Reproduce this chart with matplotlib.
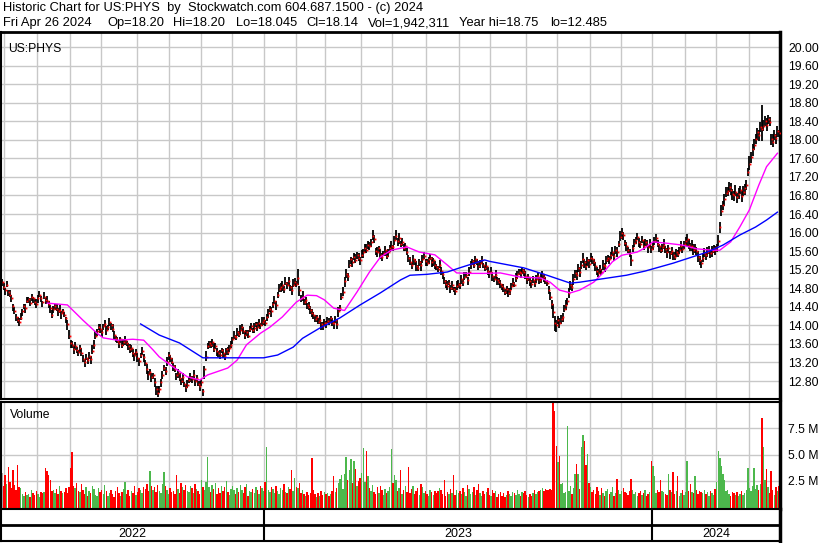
import matplotlib
matplotlib.use('Agg')
import matplotlib.pyplot as plt
import numpy as np
import pandas as pd
from pandas.tseries.holiday import USFederalHolidayCalendar

# daily closes, Apr 2022 .. Apr 26 2024
closes = [
    14.93, 14.82, 14.76, 14.88, 14.72, 14.66, 14.58, 14.42, 14.30, 14.18,
    14.12, 14.08, 14.16, 14.30, 14.42, 14.38, 14.52, 14.56, 14.48, 14.62,
    14.58, 14.50, 14.46, 14.60, 14.66, 14.58, 14.50, 14.62, 14.55, 14.52,
    14.45, 14.38, 14.22, 14.35, 14.42, 14.36, 14.30, 14.34, 14.26, 14.30,
    14.22, 14.15, 14.02, 13.78, 13.62, 13.58, 13.50, 13.55, 13.46, 13.42,
    13.52, 13.40, 13.28, 13.22, 13.30, 13.26, 13.34, 13.28, 13.45, 13.58,
    13.78, 13.88, 13.96, 13.92, 13.85, 13.98, 14.02, 13.90, 13.96, 14.08,
    14.00, 13.92, 13.80, 13.72, 13.66, 13.62, 13.70, 13.58, 13.64, 13.68,
    13.62, 13.55, 13.48, 13.52, 13.40, 13.36, 13.42, 13.30, 13.24, 13.36,
    13.45, 13.32, 13.18, 13.05, 12.95, 13.00, 12.88, 12.92, 12.78, 12.62,
    12.55, 12.62, 12.78, 12.92, 13.08, 13.02, 13.20, 13.36, 13.30, 13.22,
    13.12, 13.05, 12.92, 12.98, 12.86, 12.80, 12.88, 12.74, 12.66, 12.72,
    12.82, 12.88, 12.84, 12.92, 12.80, 12.86, 12.74, 12.70, 12.78, 12.58,
    13.05, 13.32, 13.56, 13.62, 13.58, 13.64, 13.50, 13.56, 13.44, 13.40,
    13.36, 13.46, 13.40, 13.34, 13.48, 13.42, 13.52, 13.58, 13.70, 13.78,
    13.74, 13.86, 13.82, 13.90, 13.96, 13.88, 13.80, 13.86, 13.78, 13.92,
    13.98, 13.90, 13.95, 14.02, 13.96, 14.06, 14.00, 14.08, 14.12, 14.04,
    14.18, 14.26, 14.36, 14.30, 14.46, 14.52, 14.44, 14.66, 14.78, 14.82,
    14.86, 14.78, 14.92, 14.88, 14.96, 14.82, 14.76, 14.88, 14.94, 14.90,
    15.02, 14.76, 14.58, 14.62, 14.50, 14.54, 14.44, 14.40, 14.34, 14.26,
    14.22, 14.14, 14.18, 14.08, 14.12, 14.02, 13.98, 14.06, 14.04, 14.10,
    14.08, 14.16, 14.06, 14.04, 14.12, 14.02, 14.30, 14.38, 14.62, 14.72,
    14.95, 15.10, 15.06, 15.30, 15.42, 15.36, 15.48, 15.40, 15.52, 15.46,
    15.40, 15.52, 15.58, 15.66, 15.62, 15.74, 15.70, 15.80, 15.92, 15.86,
    15.60, 15.58, 15.66, 15.52, 15.48, 15.56, 15.62, 15.50, 15.58, 15.66,
    15.72, 15.68, 15.84, 15.92, 15.82, 15.88, 15.76, 15.80, 15.66, 15.70,
    15.58, 15.46, 15.36, 15.30, 15.42, 15.38, 15.28, 15.24, 15.36, 15.30,
    15.44, 15.50, 15.38, 15.34, 15.42, 15.46, 15.36, 15.40, 15.30, 15.26,
    15.22, 15.30, 15.18, 15.10, 14.96, 14.90, 14.84, 14.92, 14.80, 14.86,
    14.78, 14.74, 14.84, 14.90, 14.86, 15.00, 14.94, 15.04, 15.08, 14.98,
    15.16, 15.32, 15.38, 15.30, 15.42, 15.36, 15.28, 15.34, 15.40, 15.30,
    15.24, 15.28, 15.18, 15.12, 15.16, 15.06, 15.00, 15.08, 14.98, 14.94,
    14.90, 14.84, 14.80, 14.72, 14.78, 14.70, 14.76, 14.84, 14.92, 14.88,
    15.02, 15.10, 15.16, 15.12, 15.20, 15.14, 15.06, 15.00, 15.04, 14.96,
    14.90, 14.98, 14.92, 15.00, 15.06, 14.98, 15.02, 15.10, 15.04, 14.96,
    14.92, 14.76, 14.62, 14.46, 14.28, 14.06, 14.00, 14.12, 14.06, 14.14,
    14.18, 14.36, 14.44, 14.52, 14.70, 14.86, 14.82, 15.00, 15.12, 15.08,
    15.24, 15.16, 15.30, 15.44, 15.36, 15.28, 15.40, 15.32, 15.46, 15.42,
    15.36, 15.28, 15.18, 15.12, 15.22, 15.16, 15.30, 15.28, 15.40, 15.46,
    15.42, 15.52, 15.58, 15.50, 15.62, 15.58, 15.76, 15.90, 16.00, 15.94,
    15.78, 15.70, 15.62, 15.56, 15.40, 15.66, 15.78, 15.84, 15.90, 15.80,
    15.76, 15.84, 15.72, 15.80, 15.74, 15.68, 15.76, 15.64, 15.72, 15.82,
    15.88, 15.76, 15.70, 15.62, 15.68, 15.74, 15.64, 15.58, 15.66, 15.56,
    15.60, 15.52, 15.48, 15.58, 15.54, 15.62, 15.70, 15.64, 15.76, 15.82,
    15.86, 15.74, 15.68, 15.72, 15.62, 15.66, 15.60, 15.48, 15.40, 15.34,
    15.46, 15.56, 15.52, 15.58, 15.62, 15.56, 15.60, 15.66, 15.62, 15.68,
    15.82, 16.12, 16.46, 16.60, 16.72, 16.86, 16.90, 16.98, 16.92, 16.84,
    16.80, 16.88, 16.76, 16.84, 16.92, 16.78, 16.88, 16.96, 17.02, 17.30,
    17.48, 17.62, 17.80, 17.88, 18.02, 18.16, 18.10, 18.28, 18.24, 18.30,
    18.40, 18.32, 18.44, 18.38, 18.02, 17.96, 18.10, 18.04, 18.18, 18.14,
]

# distance from close up to the high / down to the low, in cents
hi_off = [
    6, 9, 4, 8, 5, 10, 7, 4, 9, 6,   5, 8, 11, 6, 4, 7, 9, 5, 12, 6,
    4, 7, 10, 5, 8, 6, 3, 9, 7, 11,  8, 5, 12, 6, 4, 9, 7, 10, 5, 6,
    7, 4, 9, 13, 6, 8, 5, 10, 7, 4,  6, 11, 7, 5, 9, 4, 8, 6, 12, 10,
    9, 5, 7, 11, 6, 4, 10, 8, 5, 7,  6, 10, 8, 5, 9, 7, 4, 11, 6, 8,
    5, 7, 12, 6, 9, 4, 8, 10, 6, 5,  9, 6, 8, 11, 7, 5, 10, 6, 9, 7,
    14, 8, 6, 10, 7, 9, 12, 6, 5, 8, 7, 10, 5, 8, 12, 6, 9, 4, 7, 10,
    6, 9, 7, 11, 5, 8, 6, 10, 7, 4,  8, 12, 6, 5, 9, 7, 11, 6, 8, 5,
    10, 6, 9, 7, 4, 11, 6, 8, 5, 9,  6, 8, 5, 10, 7, 9, 6, 4, 11, 7,
    8, 5, 9, 6, 12, 7, 5, 10, 6, 8,  7, 10, 6, 9, 5, 11, 8, 6, 12, 9,
    10, 7, 12, 6, 9, 5, 8, 11, 7, 6, 20, 9, 7, 11, 6, 8, 5, 10, 7, 9,
    6, 9, 5, 8, 11, 6, 10, 7, 5, 8,  7, 5, 10, 6, 8, 12, 9, 5, 7, 10,
    9, 12, 7, 11, 6, 10, 8, 13, 6, 9, 8, 11, 6, 9, 13, 7, 10, 6, 14, 9,
    7, 10, 6, 12, 8, 5, 9, 11, 6, 8, 10, 6, 9, 14, 7, 11, 6, 8, 10, 7,
    8, 6, 11, 7, 9, 5, 10, 7, 6, 9,  7, 9, 6, 10, 5, 8, 11, 6, 9, 7,
    6, 10, 8, 5, 9, 7, 12, 6, 8, 10, 5, 8, 11, 7, 6, 9, 5, 10, 7, 6,
    9, 7, 5, 10, 8, 6, 11, 7, 9, 5,  6, 9, 7, 5, 10, 8, 6, 11, 7, 9,
    8, 5, 9, 7, 6, 10, 5, 8, 11, 6,  10, 7, 6, 9, 5, 8, 11, 6, 7, 9,
    7, 9, 5, 8, 10, 6, 9, 7, 5, 8,   6, 8, 10, 9, 18, 14, 12, 9, 10, 8,
    9, 7, 10, 8, 11, 9, 7, 10, 8, 12, 8, 10, 9, 12, 7, 10, 8, 11, 9, 7,
    6, 9, 7, 10, 8, 5, 11, 7, 9, 6,  8, 6, 10, 7, 9, 11, 6, 14, 9, 7,
    7, 9, 6, 8, 12, 7, 9, 6, 10, 8,  6, 8, 11, 7, 9, 5, 10, 8, 6, 9,
    9, 7, 5, 10, 8, 12, 6, 9, 7, 5,  8, 6, 10, 7, 9, 6, 11, 8, 5, 9,
    10, 12, 9, 11, 14, 10, 8, 12, 9, 7, 8, 11, 7, 10, 9, 6, 12, 8, 10, 7,
    12, 10, 14, 9, 11, 13, 8, 12, 15, 10, 10, 14, 9, 12, 8, 11, 13, 9, 12, 10,
    16, 12, 10, 14, 11, 9, 12, 10, 51, 13, 11, 14, 9, 12, 10, 16, 11, 9, 12, 8,
]
lo_off = [
    8, 5, 10, 6, 9, 4, 7, 11, 5, 8,  6, 10, 5, 9, 7, 11, 4, 8, 6, 10,
    9, 6, 8, 11, 5, 7, 10, 6, 9, 4,  7, 11, 6, 8, 10, 5, 9, 7, 12, 6,
    5, 9, 12, 7, 10, 6, 11, 8, 5, 9, 10, 6, 8, 12, 5, 9, 7, 11, 6, 8,
    7, 10, 6, 9, 11, 8, 5, 10, 7, 9, 9, 6, 11, 8, 5, 10, 7, 6, 9, 11,
    6, 9, 7, 10, 8, 12, 6, 9, 11, 7, 8, 10, 6, 9, 12, 7, 11, 8, 10, 13,
    9, 7, 12, 8, 6, 10, 7, 11, 8, 6, 10, 6, 9, 11, 7, 8, 12, 6, 9, 7,
    7, 11, 8, 6, 10, 9, 5, 12, 8, 10, 20, 9, 7, 10, 6, 11, 8, 7, 10, 9,
    8, 6, 10, 9, 11, 7, 9, 6, 10, 8, 6, 9, 7, 11, 8, 6, 10, 9, 5, 7,
    9, 7, 11, 6, 8, 10, 7, 9, 11, 6, 8, 10, 7, 12, 9, 6, 11, 8, 7, 10,
    11, 8, 6, 9, 12, 7, 10, 6, 9, 8, 14, 12, 8, 10, 7, 11, 9, 6, 10, 8,
    9, 7, 10, 6, 9, 11, 7, 8, 10, 6, 7, 10, 8, 11, 6, 9, 12, 8, 7, 9,
    12, 8, 10, 7, 9, 11, 8, 6, 10, 7, 10, 7, 12, 9, 6, 10, 8, 11, 7, 9,
    8, 11, 7, 10, 9, 6, 12, 8, 10, 7, 9, 7, 11, 8, 10, 12, 7, 9, 6, 10,
    7, 10, 6, 9, 11, 8, 10, 7, 9, 12, 10, 8, 11, 7, 9, 6, 10, 12, 8, 6,
    8, 6, 9, 11, 7, 10, 8, 6, 11, 9, 6, 9, 7, 10, 8, 11, 9, 7, 6, 10,
    9, 11, 8, 7, 10, 6, 9, 11, 8, 7, 7, 8, 10, 9, 6, 11, 7, 9, 10, 8,
    10, 7, 9, 6, 11, 8, 10, 7, 9, 6, 8, 10, 7, 11, 9, 7, 6, 10, 8, 11,
    9, 7, 10, 8, 6, 9, 11, 8, 10, 7, 7, 9, 8, 10, 12, 18, 14, 10, 12, 11,
    10, 8, 12, 9, 11, 10, 8, 12, 9, 10, 9, 11, 8, 10, 12, 9, 11, 8, 10, 9,
    8, 10, 9, 7, 11, 8, 10, 12, 7, 9, 10, 8, 9, 11, 8, 10, 7, 9, 14, 10,
    8, 10, 7, 9, 11, 8, 10, 9, 7, 11, 9, 7, 10, 8, 6, 11, 9, 7, 10, 8,
    10, 8, 11, 7, 9, 10, 8, 12, 9, 14, 9, 11, 8, 10, 7, 9, 10, 8, 11, 10,
    14, 10, 8, 12, 10, 11, 9, 12, 10, 11, 10, 9, 12, 11, 8, 10, 12, 9, 11, 10,
    11, 13, 10, 12, 14, 9, 12, 11, 10, 14, 12, 10, 13, 11, 9, 12, 10, 14, 11, 9,
    13, 11, 14, 10, 12, 16, 13, 11, 26, 10, 10, 12, 11, 9, 14, 12, 10, 13, 11, 9,
]

# daily volume, millions of shares
volume = [
    3.2, 2.0, 3.0, 2.2, 3.8, 2.4, 1.8, 3.5, 2.1, 1.6,  4.0, 1.9, 1.8, 1.2, 1.0, 1.4, 1.1, 1.2, 0.9, 1.6,
    1.3, 1.1, 1.5, 1.2, 0.9, 1.4, 1.3, 1.4, 3.7, 3.4,  3.0, 2.6, 1.5, 1.6, 1.3, 1.7, 1.2, 2.0, 1.5, 1.3,
    1.4, 1.8, 1.3, 1.9, 3.7, 5.2, 2.0, 1.8, 2.3, 1.5,  1.4, 2.2, 1.6, 1.2, 1.9, 1.0, 1.5, 1.3, 2.0, 1.7,
    1.1, 1.0, 1.8, 1.4, 1.6, 1.2, 2.1, 1.5, 1.0, 1.3,  1.6, 1.2, 0.9, 1.5, 1.9, 1.3, 1.0, 1.4, 1.7, 2.4,
    1.2, 1.6, 1.0, 1.5, 1.3, 2.0, 1.1, 1.4, 1.8, 1.6,  1.3, 1.9, 1.7, 2.2, 1.5, 3.4, 2.0, 1.6, 1.9, 1.4,
    2.1, 1.5, 1.3, 2.2, 3.3, 2.0, 1.6, 1.2, 1.8, 1.4,  1.5, 1.2, 3.0, 1.7, 1.3, 2.3, 1.9, 1.6, 2.1, 1.5,
    1.4, 2.0, 1.8, 1.3, 2.2, 1.7, 1.5, 1.2, 2.6, 1.9,  1.6, 2.4, 4.8, 1.9, 1.4, 2.1, 1.7, 2.3, 1.2, 1.8,
    1.3, 2.0, 1.5, 1.9, 2.5, 1.4, 1.1, 1.7, 2.0, 1.6,  1.2, 1.8, 1.4, 2.1, 1.6, 1.3, 1.9, 2.2, 1.0, 1.5,
    1.4, 1.7, 1.3, 1.9, 1.6, 1.2, 2.0, 1.8, 1.5, 2.4,  5.7, 1.6, 1.4, 1.9, 1.7, 1.3, 2.0, 1.5, 1.2, 1.8,
    1.6, 2.2, 1.4, 1.3, 1.9, 1.7, 3.5, 1.5, 2.8, 1.9,  1.8, 2.3, 1.3, 1.6, 1.2, 1.0, 1.4, 1.1, 1.3, 4.7,
    1.6, 1.2, 0.9, 1.3, 1.0, 1.5, 1.1, 1.4, 1.2, 1.3,  1.0, 1.2, 1.5, 2.9, 1.4, 1.8, 2.3, 2.7, 3.0, 1.7,
    3.1, 4.8, 2.6, 3.5, 4.6, 2.3, 4.4, 3.6, 2.0, 2.5,  2.8, 3.2, 5.6, 2.4, 5.3, 2.9, 1.8, 1.5, 2.1, 1.4,
    1.2, 1.9, 1.3, 2.0, 1.6, 1.1, 1.7, 1.3, 1.5, 1.9,  5.5, 2.3, 3.0, 2.6, 1.5, 1.8, 3.5, 1.2, 1.6, 2.0,
    1.4, 3.8, 1.3, 1.7, 2.0, 1.2, 1.5, 1.8, 1.1, 2.2,  1.9, 1.3, 1.5, 1.2, 1.0, 1.6, 1.4, 1.1, 1.5, 1.3,
    1.5, 1.8, 1.6, 1.2, 2.6, 1.0, 1.4, 1.2, 1.7, 1.3,  3.0, 1.1, 1.6, 1.3, 1.5, 1.2, 1.8, 1.4, 1.0, 2.1,
    1.7, 1.2, 1.4, 1.9, 1.1, 1.6, 2.2, 1.3, 1.0, 1.5,  1.2, 1.4, 1.8, 1.1, 1.0, 1.6, 1.3, 1.5, 0.9, 1.2,
    1.4, 1.0, 1.3, 0.9, 1.1, 1.5, 1.2, 1.0, 1.4, 1.3,  1.1, 1.6, 1.2, 1.0, 1.4, 1.3, 1.5, 1.1, 0.9, 1.2,
    1.0, 1.3, 1.6, 1.2, 1.4, 1.5, 1.6, 1.8, 1.5, 1.7,  1.6, 1.6, 1.7, 1.6, 10.5, 9.2, 5.8, 4.3, 4.9, 2.2,
    2.3, 1.3, 1.4, 7.7, 1.5, 2.0, 1.2, 1.8, 3.1, 4.1,  3.1, 1.7, 5.7, 6.9, 6.3, 4.0, 5.1, 2.3, 1.9, 1.4,
    1.6, 1.2, 1.9, 1.5, 1.1, 1.8, 1.3, 1.0, 1.5, 1.7,  1.2, 1.4, 1.9, 1.0, 1.3, 2.7, 1.6, 1.2, 1.5, 1.8,
    1.4, 1.3, 1.1, 1.5, 2.7, 1.6, 1.2, 1.4, 1.0, 1.3,  1.5, 1.1, 1.3, 1.6, 1.0, 1.2, 1.4, 4.4, 3.9, 2.9,
    1.3, 1.6, 1.4, 2.6, 1.5, 1.4, 1.2, 1.1, 3.1, 1.6,  1.4, 3.3, 1.2, 1.5, 2.9, 1.0, 1.3, 1.6, 1.1, 1.4,
    4.4, 1.5, 2.2, 1.4, 1.3, 2.9, 1.6, 1.2, 1.5, 1.4,  1.3, 1.6, 1.2, 1.4, 1.0, 1.5, 1.3, 1.1, 1.7, 2.4,
    5.3, 4.7, 3.9, 3.1, 2.6, 1.5, 1.6, 1.2, 1.0, 1.4,  1.3, 1.1, 1.4, 1.0, 1.2, 1.5, 1.1, 1.3, 1.6, 3.7,
    1.8, 1.5, 2.0, 3.7, 1.7, 2.1, 1.6, 2.2, 8.5, 5.7,  2.6, 3.6, 1.9, 1.3, 3.4, 1.6, 1.1, 1.9, 1.5, 1.94,
]

# moving averages (bar number, value)
ma_fast_idx = [29, 42, 52, 61, 65, 74, 84, 91, 97, 101, 110, 119, 127, 132, 145, 151, 157, 166, 172, 180,
               189, 196, 202, 207, 213, 220, 228, 236, 243, 250, 260, 268, 278, 286, 292, 301, 310, 320, 333, 346,
               352, 358, 365, 371, 380, 386, 392, 398, 408, 413, 418, 427, 437, 446, 456, 461, 468, 474, 480, 486,
               491, 498]
ma_fast = [14.48, 14.44, 14.11, 13.83, 13.73, 13.68, 13.70, 13.68, 13.47, 13.32, 13.10, 12.89, 12.82, 12.93, 13.08,
           13.25, 13.58, 13.83, 13.96, 14.18, 14.50, 14.65, 14.64, 14.55, 14.37, 14.32, 14.72, 15.15, 15.47, 15.62,
           15.69, 15.58, 15.52, 15.30, 15.13, 15.12, 15.12, 15.13, 15.04, 15.02, 14.93, 14.76, 14.70, 14.76, 14.93,
           15.13, 15.37, 15.51, 15.58, 15.67, 15.80, 15.77, 15.73, 15.65, 15.62, 15.62, 15.80, 16.13, 16.49, 17.02,
           17.42, 17.71]
ma_slow_idx = [89, 101, 114, 129, 168, 177, 187, 193, 204, 217, 230, 243, 256, 262, 273, 286, 294, 310, 313, 335,
               350, 365, 371, 389, 401, 413, 431, 453, 463, 474, 484, 491, 498]
ma_slow = [14.03, 13.79, 13.62, 13.30, 13.30, 13.36, 13.53, 13.72, 13.94, 14.16, 14.44, 14.70, 14.98, 15.08, 15.10,
           15.15, 15.24, 15.41, 15.38, 15.24, 15.08, 14.91, 14.93, 15.02, 15.08, 15.17, 15.34, 15.58, 15.73, 15.95,
           16.12, 16.27, 16.44]

price_ticks = [12.8, 13.2, 13.6, 14.0, 14.4, 14.8, 15.2, 15.6, 16.0, 16.4, 16.8, 17.2, 17.6, 18.0, 18.4, 18.8,
               19.2, 19.6, 20.0]
vol_ticks = [2.5, 5.0, 7.5]

title1 = 'Historic Chart for US:PHYS  by  Stockwatch.com 604.687.1500 - (c) 2024'
# second header line, one field each, with its left edge in pixels
title2_fields = ['Fri Apr 26 2024', 'Op=18.20', 'Hi=18.20', 'Lo=18.045', 'Cl=18.14', 'Vol=1,942,311',
                 'Year hi=18.75', 'lo=12.485']
title2_x = [3, 107, 173, 236, 306, 368, 459, 550]

closes = np.array(closes)
highs = closes + np.array(hi_off) / 100
lows = closes - np.array(lo_off) / 100
volume = np.array(volume)
n = len(closes)
x = np.arange(n)

bday = pd.offsets.CustomBusinessDay(calendar=USFederalHolidayCalendar())
dates = pd.date_range(end='2024-04-26', periods=n, freq=bday)
month_start = [i for i in range(1, n) if dates[i].month != dates[i - 1].month]
year_start = [i for i in range(1, n) if dates[i].year != dates[i - 1].year]

chg = np.diff(closes, prepend=closes[0])
vcol = np.where(chg > 0, '#4cb84c', np.where(chg < 0, '#ff0000', '#a8a8a8'))

plt.rcParams['font.family'] = ['Liberation Sans', 'DejaVu Sans']
W, H = 830, 543
fig = plt.figure(figsize=(W / 100, H / 100), dpi=100)


def px_axes(left, top, right, bottom):
    return fig.add_axes([left / W, 1 - bottom / H, (right - left) / W, (bottom - top) / H])


grid_c = '#c8c8c8'
xlim = (-0.65, n - 1 + 0.65)

# price panel
ax = px_axes(1, 32, 780, 399)
for m in month_start:
    ax.axvline(m - 0.5, color=grid_c, lw=1, zorder=0)
for t in price_ticks:
    ax.axhline(t, color=grid_c, lw=1, zorder=0)
ax.vlines(x, lows, highs, color='black', lw=1.3, zorder=2)
ax.plot(x + 0.35, closes, ls='none', marker='s', ms=1.3, mec='none', color='#ff0000', zorder=3)
ax.plot(ma_fast_idx, ma_fast, color='#ff00ff', lw=1, zorder=4)
ax.plot(ma_slow_idx, ma_slow, color='#0000ff', lw=1, zorder=4)
ax.set_xlim(*xlim)
ax.set_ylim(12.412, 20.324)
ax.set_xticks([])
ax.yaxis.tick_right()
ax.set_yticks(price_ticks)
ax.set_yticklabels([f'{t:.2f}' for t in price_ticks])
ax.tick_params(axis='y', length=0, pad=6, labelsize=8.7)
for s in ax.spines.values():
    s.set_color('black')
    s.set_linewidth(1.5)
ax.spines['right'].set_linewidth(2.5)
ax.spines['top'].set_linewidth(2)
ax.text(0.009, 0.97, 'US:PHYS', transform=ax.transAxes, fontsize=8.7, va='top', ha='left')

# volume panel
axv = px_axes(1, 402, 780, 509)
for m in month_start:
    axv.axvline(m - 0.5, color=grid_c, lw=1, zorder=0)
for t in vol_ticks:
    axv.axhline(t, color=grid_c, lw=1, zorder=0)
vbase = -0.22
axv.bar(x, volume - vbase, bottom=vbase, width=0.92, color=vcol, linewidth=0, zorder=2)
axv.set_xlim(*xlim)
axv.set_ylim(vbase, 10.04)
axv.set_xticks([])
axv.yaxis.tick_right()
axv.set_yticks(vol_ticks)
axv.set_yticklabels([f'{t:.1f} M' for t in vol_ticks])
axv.tick_params(axis='y', length=0, pad=6, labelsize=8.7)
for s in axv.spines.values():
    s.set_color('black')
    s.set_linewidth(1.5)
axv.spines['right'].set_linewidth(2.5)
axv.spines['bottom'].set_linewidth(2)
axv.text(0.011, 0.93, 'Volume', transform=axv.transAxes, fontsize=8.7, va='top', ha='left')

# year strip
axy = px_axes(1, 509, 780, 541)
axy.set_xlim(*xlim)
axy.set_ylim(0, 1)
axy.axhline(0.5, color='black', lw=2)
for ys in year_start:
    axy.axvline(ys - 0.5, color='black', lw=1.5)
edges = [0] + year_start + [n]
for a, b in zip(edges[:-1], edges[1:]):
    axy.text((a + b - 1) / 2, 0.22, str(dates[a].year), ha='center', va='center', fontsize=9)
axy.set_xticks([])
axy.set_yticks([])
for s in axy.spines.values():
    s.set_color('black')
    s.set_linewidth(1.5)
axy.spines['right'].set_linewidth(2.5)

fig.text(3 / W, 1 - 8 / H, title1, fontsize=9.3, va='center', ha='left')
for label, px in zip(title2_fields, title2_x):
    fig.text(px / W, 1 - 23 / H, label, fontsize=9.3, va='center', ha='left')

fig.savefig('out.png', dpi=100)
